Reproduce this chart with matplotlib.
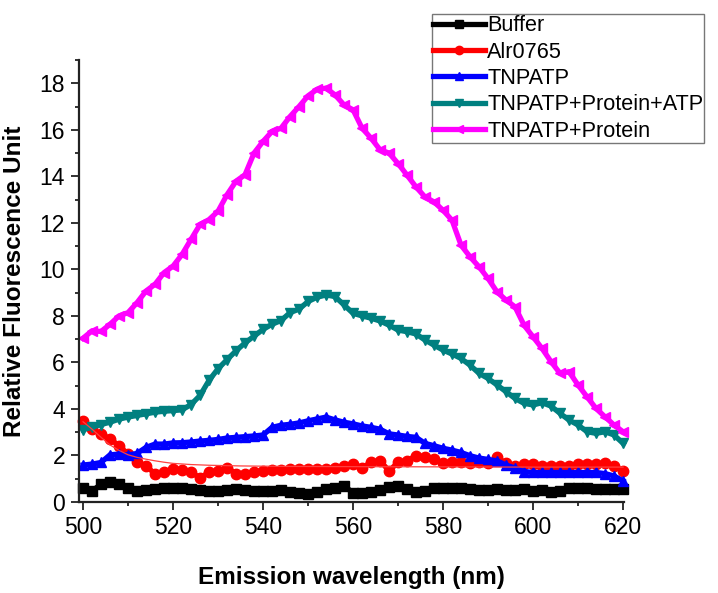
import numpy as np
import matplotlib.pyplot as plt
from matplotlib.ticker import MultipleLocator

plt.rcParams['font.family'] = ['Liberation Sans', 'DejaVu Sans']

wavelength = np.arange(500, 621, 2)

buffer_vals = [0.62, 0.48, 0.76, 0.84, 0.76, 0.62, 0.48, 0.50, 0.55, 0.59,
               0.62, 0.62, 0.55, 0.50, 0.48, 0.48, 0.50, 0.55, 0.50, 0.48,
               0.48, 0.48, 0.50, 0.45, 0.40, 0.36, 0.45, 0.55, 0.62, 0.69,
               0.40, 0.40, 0.45, 0.50, 0.65, 0.69, 0.55, 0.45, 0.48, 0.62,
               0.62, 0.62, 0.59, 0.55, 0.50, 0.50, 0.55, 0.50, 0.50, 0.55,
               0.48, 0.50, 0.45, 0.48, 0.59, 0.62, 0.59, 0.55, 0.55, 0.55,
               0.55]
alr_vals = [3.50, 3.14, 2.93, 2.71, 2.42, 2.06, 1.70, 1.56, 1.20, 1.27,
            1.41, 1.37, 1.27, 1.05, 1.27, 1.34, 1.48, 1.22, 1.20, 1.31,
            1.34, 1.37, 1.37, 1.40, 1.40, 1.41, 1.41, 1.41, 1.46, 1.56,
            1.63, 1.48, 1.70, 1.77, 1.34, 1.70, 1.77, 1.99, 1.92, 1.84,
            1.66, 1.70, 1.70, 1.66, 1.70, 1.66, 1.92, 1.66, 1.56, 1.63,
            1.63, 1.56, 1.56, 1.56, 1.56, 1.63, 1.63, 1.63, 1.66, 1.56,
            1.34]
tnpatp_vals = [1.59, 1.63, 1.70, 2.03, 2.06, 2.02, 2.09, 2.35, 2.49, 2.49,
               2.54, 2.55, 2.58, 2.62, 2.65, 2.69, 2.75, 2.78, 2.81, 2.84,
               2.88, 3.21, 3.30, 3.34, 3.40, 3.49, 3.57, 3.65, 3.53, 3.43,
               3.36, 3.27, 3.21, 3.13, 2.93, 2.88, 2.82, 2.78, 2.52, 2.42,
               2.31, 2.23, 2.13, 1.99, 1.89, 1.83, 1.77, 1.59, 1.46, 1.31,
               1.27, 1.27, 1.27, 1.27, 1.27, 1.27, 1.27, 1.27, 1.22, 1.12,
               0.91]
prot_atp_vals = [3.11, 3.21, 3.33, 3.43, 3.56, 3.65, 3.72, 3.79, 3.86, 3.90,
                 3.93, 3.96, 4.19, 4.58, 5.23, 5.73, 6.12, 6.50, 6.84, 7.13,
                 7.42, 7.64, 7.80, 8.14, 8.29, 8.62, 8.80, 8.90, 8.83, 8.47,
                 8.11, 8.00, 7.90, 7.78, 7.60, 7.39, 7.32, 7.22, 6.96, 6.74,
                 6.53, 6.36, 6.17, 5.88, 5.53, 5.31, 5.03, 4.74, 4.45, 4.24,
                 4.17, 4.27, 4.12, 3.81, 3.52, 3.31, 3.02, 2.95, 3.02, 2.88,
                 2.52]
prot_vals = [7.04, 7.36, 7.33, 7.64, 8.00, 8.14, 8.57, 9.07, 9.36, 9.86,
             10.14, 10.64, 11.29, 11.93, 12.14, 12.50, 13.21, 13.79, 14.07, 15.00,
             15.50, 15.93, 16.07, 16.57, 17.00, 17.46, 17.74, 17.79, 17.50, 17.07,
             16.86, 16.07, 15.64, 15.14, 15.00, 14.55, 14.05, 13.54, 13.11, 12.90,
             12.54, 12.11, 11.04, 10.54, 10.11, 9.61, 9.03, 8.68, 8.39, 7.60,
             7.10, 6.60, 6.03, 5.53, 5.60, 5.03, 4.52, 4.02, 3.66, 3.31,
             3.02]

# thin fitted decay curve drawn over Alr0765
fit_x = [500, 502, 504, 506, 508, 510, 512, 514, 516, 518, 520, 524, 528,
         535, 545, 560, 580, 600, 620]
fit_y = [3.45, 3.13, 2.78, 2.45, 2.22, 2.03, 1.92, 1.84, 1.77, 1.71, 1.66,
         1.61, 1.58, 1.55, 1.53, 1.52, 1.51, 1.50, 1.50]

labels = ['Buffer', 'Alr0765', 'TNPATP', 'TNPATP+Protein+ATP', 'TNPATP+Protein']
colors = ['black', '#ff0000', '#0000ff', '#008080', '#ff00ff']
markers = ['s', 'o', '^', 'v', '<']
series = [buffer_vals, alr_vals, tnpatp_vals, prot_atp_vals, prot_vals]

fig = plt.figure(figsize=(7.18, 5.93), dpi=100)
ax = fig.add_axes([79/718, 91/593, 544.5/718, 442/593])

lines = []
for vals, lab, col, mk in zip(series, labels, colors, markers):
    ln, = ax.plot(wavelength, vals, color=col, marker=mk, markersize=7.5,
                  linewidth=3.8, label=lab, clip_on=False)
    lines.append(ln)
    if lab == 'Alr0765':
        ax.plot(fit_x, fit_y, color='#ff4040', linewidth=0.9, zorder=2.5)

ax.set_xlim(499.1, 620.1)
ax.set_ylim(0, 19)
ax.xaxis.set_major_locator(MultipleLocator(20))
ax.xaxis.set_minor_locator(MultipleLocator(10))
ax.yaxis.set_major_locator(MultipleLocator(2))
ax.yaxis.set_minor_locator(MultipleLocator(1))

for side in ['top', 'right']:
    ax.spines[side].set_visible(False)
for side in ['left', 'bottom']:
    ax.spines[side].set_linewidth(1.6)
    ax.spines[side].set_color('#222222')

ax.tick_params(which='major', direction='out', length=6, width=1.3,
               labelsize=16.5, pad=4, color='#222222')
ax.tick_params(which='minor', direction='out', length=3, width=1.3,
               color='#222222')

ax.set_xlabel('Emission wavelength (nm)', fontsize=17.5, fontweight='bold')
ax.set_ylabel('Relative Fluorescence Unit', fontsize=17.5, fontweight='bold')
ax.xaxis.set_label_coords(0.5, -0.145)
ax.yaxis.set_label_coords(-0.097, 0.5)

leg = fig.legend(handles=lines, loc='upper left',
                 bbox_to_anchor=(432/718, 1 - 14/593), fontsize=15.6,
                 frameon=True, fancybox=False, edgecolor='#555555',
                 borderpad=0.05, labelspacing=0.25, handlelength=2.4,
                 handletextpad=0.1, borderaxespad=0, markerscale=0.8)
leg.get_frame().set_linewidth(1.0)

fig.savefig('out.png', dpi=100)
